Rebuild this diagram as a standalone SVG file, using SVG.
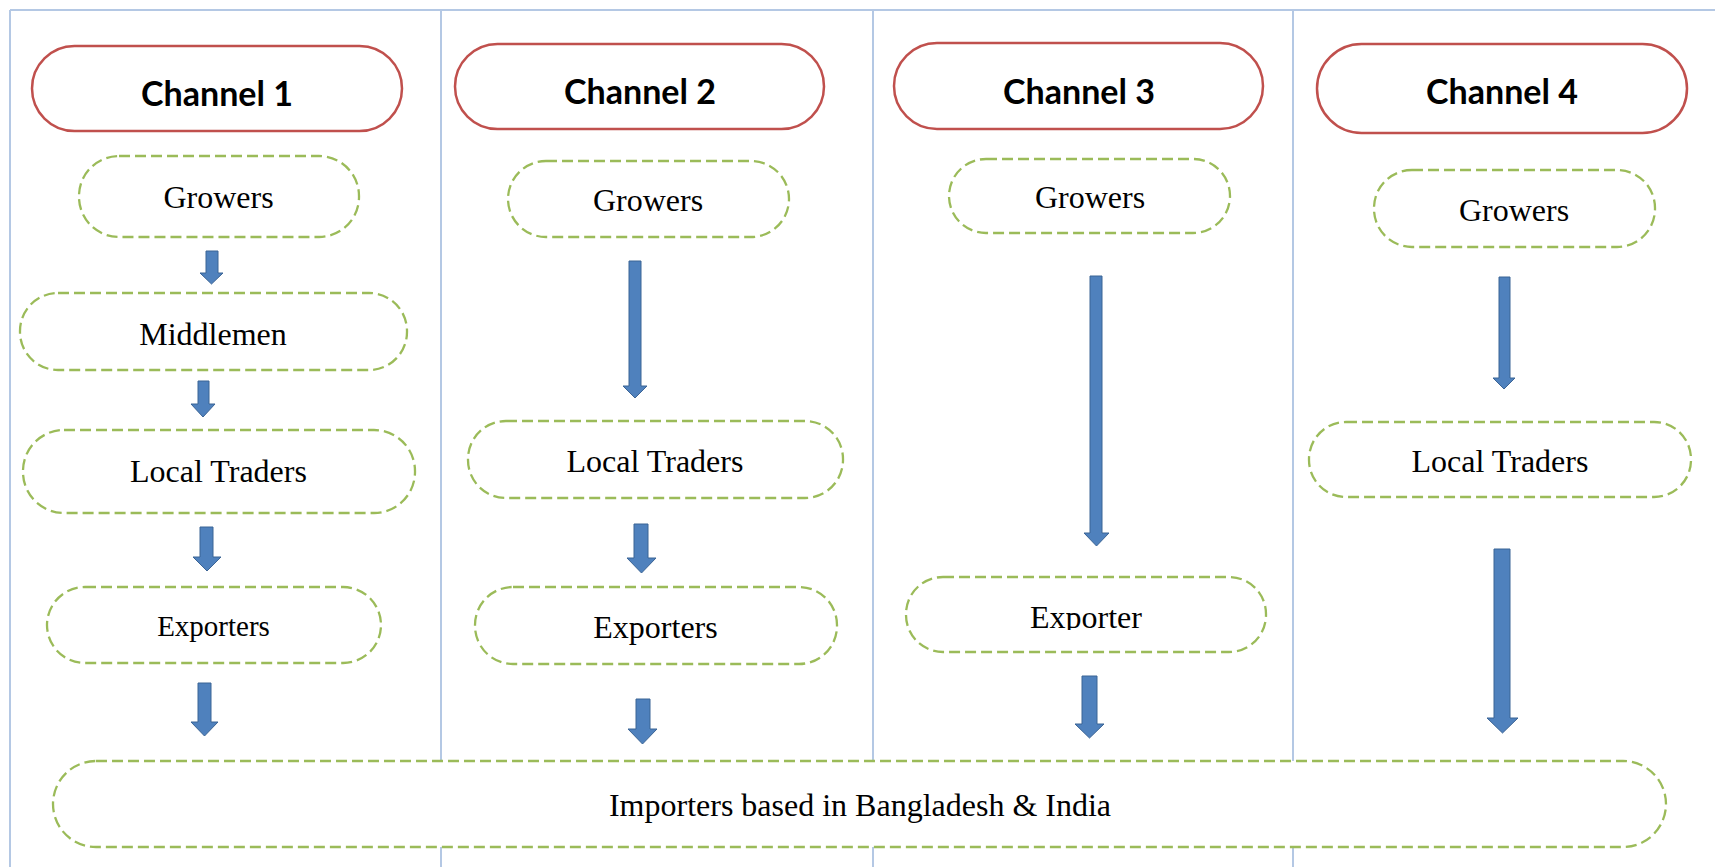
<svg xmlns="http://www.w3.org/2000/svg" width="1715" height="867" viewBox="0 0 1715 867">
<style>
.grid{stroke:#b4c8e4;stroke-width:2;fill:none}
.hdr{fill:#fff;stroke:#c0504d;stroke-width:2.5}
.hdrt{font-family:Lato,"Open Sans","Liberation Sans",sans-serif;font-weight:bold;font-size:34px;fill:#000;text-anchor:middle}
.box{fill:#fff;stroke:#9bbb59;stroke-width:2.3;stroke-dasharray:11 5}
.t{font-family:"Liberation Serif","Times New Roman",serif;font-size:32px;fill:#000;text-anchor:middle}
.arr{fill:#4f81bd;stroke:#3b6495;stroke-width:1}
</style>
<defs>
<clipPath id="clipExp"><rect x="900" y="570" width="380" height="60"/></clipPath>
</defs>
<rect width="1715" height="867" fill="#fff"/>
<g id="table">
<line class="grid" x1="10" y1="10" x2="1715" y2="10"/>
<line class="grid" x1="10" y1="10" x2="10" y2="867"/>
<line class="grid" x1="441" y1="10" x2="441" y2="867"/>
<line class="grid" x1="873" y1="10" x2="873" y2="867"/>
<line class="grid" x1="1293" y1="10" x2="1293" y2="867"/>
</g>
<g id="ch1-header"><rect class="hdr" x="32" y="46" width="370" height="85" rx="42.5"/><text class="hdrt" x="217" y="106" textLength="152" lengthAdjust="spacingAndGlyphs">Channel 1</text></g>
<g id="ch2-header"><rect class="hdr" x="455" y="44" width="369" height="85" rx="42.5"/><text class="hdrt" x="640" y="104" textLength="152" lengthAdjust="spacingAndGlyphs">Channel 2</text></g>
<g id="ch3-header"><rect class="hdr" x="894" y="43" width="369" height="86" rx="43"/><text class="hdrt" x="1079" y="104" textLength="152" lengthAdjust="spacingAndGlyphs">Channel 3</text></g>
<g id="ch4-header"><rect class="hdr" x="1317" y="44" width="370" height="89" rx="44.5"/><text class="hdrt" x="1502" y="104" textLength="152" lengthAdjust="spacingAndGlyphs">Channel 4</text></g>
<g id="ch1-growers"><rect class="box" x="79" y="156" width="280" height="81" rx="40"/><text class="t" x="218.5" y="208">Growers</text></g>
<g id="ch1-middlemen"><rect class="box" x="20" y="293" width="387" height="77" rx="38"/><text class="t" x="213" y="345">Middlemen</text></g>
<g id="ch1-localtraders"><rect class="box" x="23" y="430" width="392" height="83" rx="41"/><text class="t" x="218.5" y="482">Local Traders</text></g>
<g id="ch1-exporters"><rect class="box" x="47" y="587" width="334" height="76" rx="38"/><text class="t" x="213.5" y="636" style="font-size:29px">Exporters</text></g>
<g id="ch2-growers"><rect class="box" x="508" y="161" width="281" height="76" rx="38"/><text class="t" x="648" y="211">Growers</text></g>
<g id="ch2-localtraders"><rect class="box" x="468" y="421" width="375" height="77" rx="38"/><text class="t" x="655" y="472">Local Traders</text></g>
<g id="ch2-exporters"><rect class="box" x="475" y="587" width="362" height="77" rx="38"/><text class="t" x="655.5" y="638">Exporters</text></g>
<g id="ch3-growers"><rect class="box" x="949" y="159" width="281" height="74" rx="37"/><text class="t" x="1090" y="208">Growers</text></g>
<g id="ch3-exporter"><rect class="box" x="906" y="577" width="360" height="75" rx="37"/><text class="t" x="1086" y="628" clip-path="url(#clipExp)">Exporter</text></g>
<g id="ch4-growers"><rect class="box" x="1374" y="170" width="281" height="77" rx="38"/><text class="t" x="1514" y="221">Growers</text></g>
<g id="ch4-localtraders"><rect class="box" x="1309" y="422" width="382" height="75" rx="37"/><text class="t" x="1500" y="472">Local Traders</text></g>
<g id="connectors">
<path class="arr" d="M206 251H218V273H223L211.5 284L200 273H206Z"/>
<path class="arr" d="M198 381H209V404H215L203 417L191 404H198Z"/>
<path class="arr" d="M200 527H213V557H221L207 571L193 557H200Z"/>
<path class="arr" d="M198 683H211V722H218L204.5 736L191 722H198Z"/>
<path class="arr" d="M629 261H641V386H647L635 398L623 386H629Z"/>
<path class="arr" d="M634 524H648V558H656L641.5 573L627 558H634Z"/>
<path class="arr" d="M636 699H650V729H657L642.5 744L628 729H636Z"/>
<path class="arr" d="M1090 276H1102V533H1109L1096.5 546L1084 533H1090Z"/>
<path class="arr" d="M1082 676H1097V724H1104L1089.5 738L1075 724H1082Z"/>
<path class="arr" d="M1499 277H1510V378H1515L1504 389L1493 378H1499Z"/>
<path class="arr" d="M1494 549H1510V718H1518L1502.5 733L1487 718H1494Z"/>
</g>
<g id="importers"><rect class="box" x="53" y="761" width="1613" height="86" rx="43"/><text class="t" x="860" y="816">Importers based in Bangladesh &amp; India</text></g>
</svg>
